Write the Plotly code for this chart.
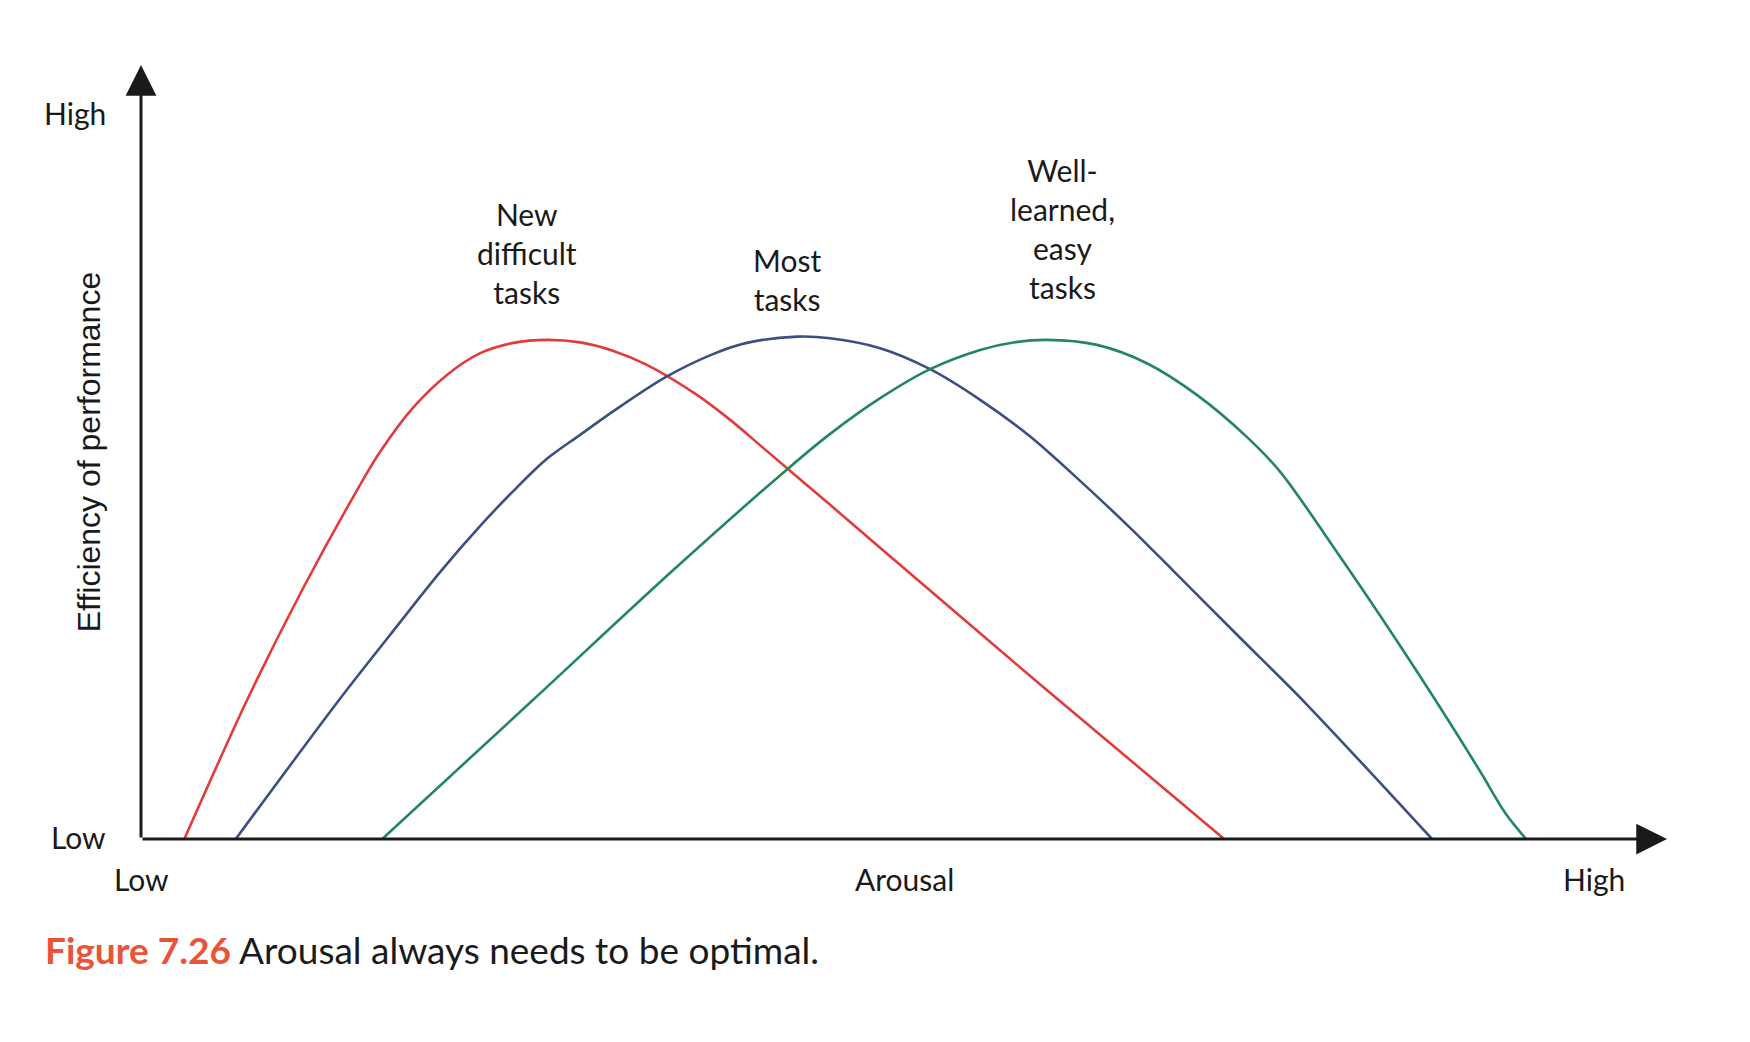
import plotly.graph_objects as go

# ---- data (arousal 0-100, efficiency of performance 0-100) ----
new_x = [2.84, 6.96, 10.57, 14.17, 15.68, 17.86, 20.05, 22.23, 24.41, 26.60, 28.78, 30.96,
         33.15, 36.43, 38.61, 40.79, 45.16, 50.08, 58.79, 70.98]
new_y = [0.0, 17.99, 32.20, 45.11, 50.06, 55.79, 59.96, 62.77, 64.10, 64.48, 64.16, 63.06,
         61.26, 57.38, 54.15, 50.50, 43.17, 34.84, 20.19, 0.0]

most_x = [6.21, 12.99, 16.33, 19.61, 22.23, 24.41, 26.60, 28.78, 30.96, 34.35, 37.52, 39.70,
          42.98, 45.16, 48.44, 51.71, 54.99, 58.27, 61.54, 64.82, 67.65, 72.02, 76.35, 84.60]
most_y = [0.0, 17.99, 26.39, 34.52, 40.46, 44.98, 49.12, 52.22, 55.28, 59.64, 62.68, 64.10,
          64.91, 64.70, 63.41, 60.70, 56.74, 52.00, 46.27, 40.20, 34.65, 26.00, 17.47, 0.0]

easy_x = [15.81, 25.70, 34.90, 42.43, 45.16, 48.44, 51.71, 54.99, 57.17, 59.36, 62.64, 65.91,
          69.19, 72.46, 74.64, 78.58, 82.25, 85.52, 87.81, 89.39, 90.76]
easy_y = [0.0, 17.99, 34.78, 47.91, 52.34, 56.95, 60.70, 63.19, 64.14, 64.48, 63.84, 61.47,
          57.38, 51.96, 47.47, 36.46, 25.74, 15.79, 8.56, 3.40, 0.0]

series_names = ["New<br>difficult<br>tasks", "Most<br>tasks", "Well-<br>learned,<br>easy<br>tasks"]
label_x = [25.31, 42.34, 60.36]
label_y = [75.65, 72.30, 78.88]
colors = ["#E23B3B", "#3B4F80", "#24875C"]

x_tick_labels = ["Low", "Arousal", "High"]
x_tick_pos = [0.0, 0.5, 0.952]          # paper fraction
y_tick_labels = ["Low", "High"]
y_tick_pos = [0.003, 0.938]             # paper fraction

y_title = "Efficiency of performance"
caption_bold = "Figure 7.26"
caption_rest = "Arousal always needs to be optimal."

TXT = "#1a1a1a"
FONT = "Lato"

fig = go.Figure()
for xs, ys, c in zip([new_x, most_x, easy_x], [new_y, most_y, easy_y], colors):
    fig.add_trace(go.Scatter(x=xs, y=ys, mode="lines",
                             line=dict(color=c, width=2.6, shape="spline", smoothing=0.9),
                             hoverinfo="skip", showlegend=False))

ann = []
# axes with arrowheads
ann.append(dict(x=0, y=100, ax=0, ay=0, xref="x", yref="y", axref="x", ayref="y",
                text="", showarrow=True, arrowhead=2, arrowsize=2.05, arrowwidth=3,
                arrowcolor=TXT, standoff=0, startstandoff=0))
ann.append(dict(x=100, y=0, ax=0, ay=0, xref="x", yref="y", axref="x", ayref="y",
                text="", showarrow=True, arrowhead=2, arrowsize=2.05, arrowwidth=3,
                arrowcolor=TXT, standoff=0, startstandoff=0))

for t, x, y in zip(series_names, label_x, label_y):
    ann.append(dict(x=x, y=y, xref="x", yref="y", text=t, showarrow=False,
                    xanchor="center", yanchor="middle", align="center",
                    font=dict(family=FONT, size=30, color=TXT)))

for t, x in zip(x_tick_labels, x_tick_pos):
    ann.append(dict(x=x, y=-0.052, xref="paper", yref="paper", text=t, showarrow=False,
                    xanchor="center", yanchor="middle",
                    font=dict(family=FONT, size=30, color=TXT)))
for t, y in zip(y_tick_labels, y_tick_pos):
    ann.append(dict(x=-0.0214, y=y, xref="paper", yref="paper", text=t, showarrow=False,
                    xanchor="right", yanchor="middle",
                    font=dict(family=FONT, size=30, color=TXT)))

ann.append(dict(x=-0.0339, y=0.5, xref="paper", yref="paper", text=y_title, showarrow=False,
                textangle=-90, xanchor="center", yanchor="middle",
                font=dict(family="Liberation Sans", size=32, color=TXT)))

ann.append(dict(x=-0.0645, y=-0.143, xref="paper", yref="paper",
                text=f"<span style='color:#E8543A'><b>{caption_bold}</b></span> {caption_rest}",
                showarrow=False, xanchor="left", yanchor="middle",
                font=dict(family=FONT, size=37, color=TXT)))

fig.update_layout(
    width=1750, height=1042,
    margin=dict(l=140.7, r=83, t=65, b=202.7, pad=0),
    paper_bgcolor="white", plot_bgcolor="white",
    xaxis=dict(range=[0, 100], visible=False, fixedrange=True),
    yaxis=dict(range=[0, 100], visible=False, fixedrange=True),
    annotations=ann,
    showlegend=False,
)

fig.write_html("out.html", config={"displayModeBar": False},
               post_script="document.body.style.margin='0';")
